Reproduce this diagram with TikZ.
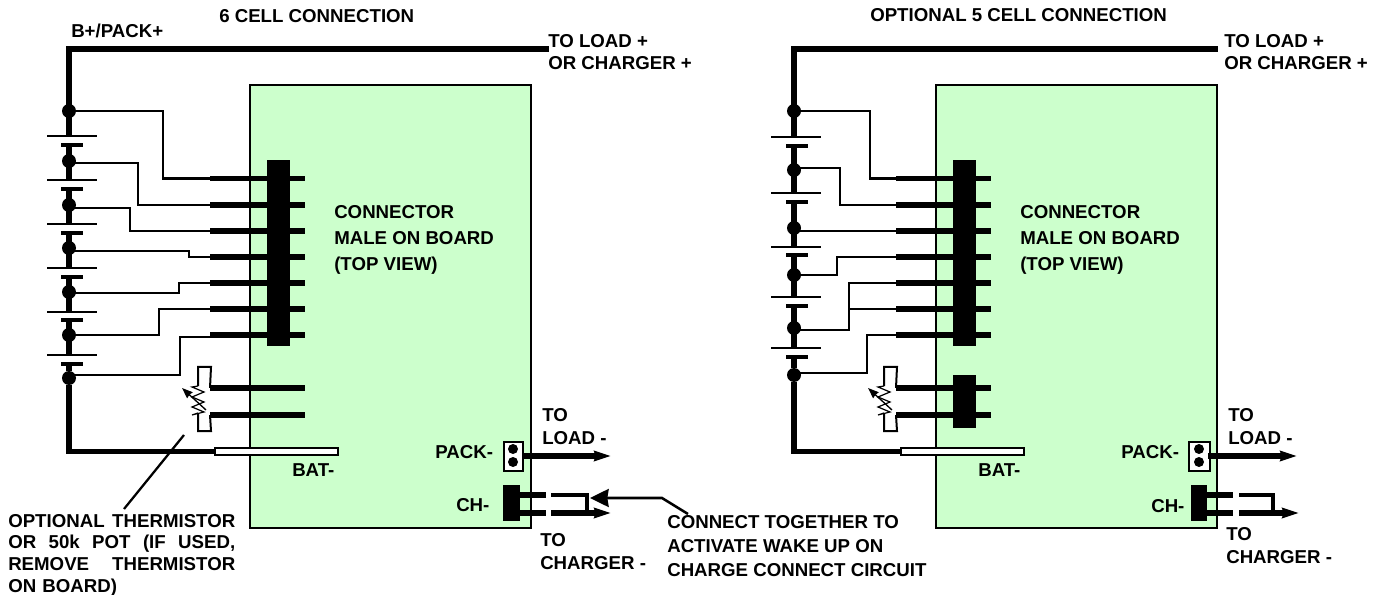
\documentclass[tikz,border=0pt]{standalone}
\usepackage{fontspec}
\setmainfont{Liberation Sans}
\usetikzlibrary{arrows.meta, fit}
\definecolor{boardgreen}{HTML}{CCFFCC}
\tikzstyle{board} = [rectangle, draw, fill=boardgreen, line width=2pt, inner sep=0pt]
\tikzstyle{solidblock} = [rectangle, fill=black, inner sep=0pt]
\tikzstyle{whitebar} = [rectangle, draw, fill=white, line width=1.3pt, inner sep=0pt]
\tikzstyle{junction} = [circle, fill=black, inner sep=0pt, minimum size=10.5pt]
\tikzstyle{dot} = [circle, fill=black, inner sep=0pt, minimum size=7.5pt]
\tikzstyle{longplate} = [rectangle, fill=black, inner sep=0pt, minimum width=37.5pt, minimum height=2.2pt]
\tikzstyle{shortplate} = [rectangle, fill=black, inner sep=0pt, minimum width=16.5pt, minimum height=3.6pt]
\tikzstyle{bus} = [line width=4.3pt]
\tikzstyle{pin} = [line width=4pt]
\tikzstyle{wire} = [line width=2.1pt]
\tikzstyle{lbl} = [anchor=base west, inner sep=0pt, align=left, font=\fontsize{14}{17}\selectfont\bfseries]

\begin{document}
\begin{tikzpicture}[x=0.75pt, y=-0.75pt, >={Stealth[length=12.5pt,width=7.5pt,inset=1pt]}]
		\useasboundingbox (0,0) rectangle (1382,595);

		% Parts both boards share
		\foreach \side/\dx in {a/0,b/686} {
			\begin{scope}[shift={(\dx,0)}]
				\coordinate (tl\side) at (250,85);
				\coordinate (br\side) at (531,528);
				\node[board, fit=(tl\side) (br\side)] (board\side) {};
				\node (conntext\side) [lbl] at (334,271) {CONNECTOR\\[2.5pt]MALE ON BOARD\\[2.5pt](TOP VIEW)};
				\node (battext\side) [lbl] at (292,476) {BAT-};
				\foreach \n/\y in {1/178.5,2/205,3/231,4/257,5/283,6/309,7/335,8/388,9/415} {
					\coordinate (pin\side\n) at (210,\y);
					\coordinate (pinend\side\n) at (305,\y);
					\draw[pin] (pin\side\n) -- (pinend\side\n);
				}
				\coordinate (blocktl\side) at (267,160);
				\coordinate (blockbr\side) at (290,346);
				\node[solidblock, fit=(blocktl\side) (blockbr\side)] (block\side) {};
				% Thermistor
				\draw[line width=1.5pt] (pin\side8) -- (211,367) -- (198,367) -- (198,386);
				\draw[line width=1.5pt] (pin\side9) -- (211,431) -- (198,431) -- (198,413);
				\draw[line width=0.9pt] (198,386) -- (192,387) -- (204,392) -- (192,397) -- (204,402) -- (192,407) -- (204,412) -- (192,415) -- (198,413);
				\draw[->, line width=1pt, >={Stealth[length=8pt,width=6pt,inset=0.5pt]}] (206,410) -- (182,388);
				% BAT- bar
				\coordinate (bartl\side) at (215,448);
				\coordinate (barbr\side) at (338,455);
				\node[whitebar, fit=(bartl\side) (barbr\side)] (bar\side) {};
			\end{scope}
		}

		% Left: cell stack
		\foreach \n/\y in {1/111,2/161,3/205,4/248,5/292,6/335,7/378} {
			\node (ja\n) [junction] at (69,\y) {};
		}
		\foreach \n/\ylong/\yshort in {1/136/145,2/180/189,3/224/233,4/268/277,5/312/320,6/355/364} {
			\node (lpa\n) [longplate] at (72,\ylong) {};
			\node (spa\n) [shortplate] at (72,\yshort) {};
		}
		\foreach \n/\m in {1/2,2/3,3/4,4/5,5/6} {
			\draw[bus] (ja\m |- spa\n) -- (ja\m |- lpa\m);
		}
		\coordinate (busenda) at (549,49);
		\draw[bus] (ja1 |- lpa1) |- (busenda);
		\draw[bus] (ja7 |- spa6) -- (ja7);
		\draw[bus] (ja7) |- (bara.west);

		% Left: wires to the connector
		\draw[wire] (ja1) -| (163,178.5) -- (pina1);
		\draw[wire] (ja2) ++(0,2) -| (138,205) -- (pina2);
		\draw[wire] (ja3) ++(0,3) -| (130,231) -- (pina3);
		\draw[wire] (ja4) ++(0,3) -| (189,257) -- (pina4);
		\draw[wire] (ja5) ++(0,1) -| (179,283) -- (pina5);
		\draw[wire] (ja6) -| (159,309) -- (pina6);
		\draw[wire] (ja7) ++(0,-3) -| (180,337) -- (pina7 |- 0,337);

		% Left: pack and charger terminals
		\coordinate (packtla) at (504,442);
		\coordinate (packbra) at (523,471);
		\node[whitebar, fit=(packtla) (packbra)] (packa) {};
		\node (dotaa) [dot] at (513,449) {};
		\node (dotba) [dot] at (513,462) {};
		\coordinate (chtla) at (503,485);
		\coordinate (chbra) at (520,521);
		\node[solidblock, fit=(chtla) (chbra)] (cha) {};
		\coordinate (loadenda) at (611,456);
		\draw[->, pin] (522,456) -- (loadenda);
		\coordinate (chargeenda) at (611,513);
		\draw[pin] (cha.east |- 0,495) -- (546,495);
		\draw[pin] (cha.east |- 0,513) -- (546,513);
		\draw[line width=2.4pt] (551,495) -| (587,513);
		\draw[->, pin] (551,513) -- (chargeenda);

		% Pointer to the open link
		\coordinate (linkpoint) at (590,498);
		\coordinate (notepoint) at (688,514);
		\draw[<-, line width=1.9pt, >={Stealth[length=14pt,width=13.5pt,inset=1pt]}] (linkpoint) -- (662,498) -- (notepoint);

		% Thermistor leader
		\coordinate (leadertop) at (184,435);
		\coordinate (leaderend) at (124,509);
		\draw[line width=1.7pt] (leadertop) -- (leaderend);

		% Right: cell stack
		\foreach \n/\y in {1/111,2/170,3/228,4/275,5/328,6/375} {
			\node (jb\n) [junction] at (794,\y) {};
		}
		\foreach \n/\ylong/\yshort in {1/137/146,2/193/202,3/247/255,4/297/306,5/348/357} {
			\node (lpb\n) [longplate] at (796,\ylong) {};
			\node (spb\n) [shortplate] at (796.5,\yshort) {};
		}
		\foreach \n/\m in {1/2,2/3,3/4,4/5} {
			\draw[bus] (jb\m |- spb\n) -- (jb\m |- lpb\m);
		}
		\coordinate (busendb) at (1218,49);
		\draw[bus] (jb1 |- lpb1) |- (busendb);
		\draw[bus] (jb6 |- spb5) -- (jb6);
		\draw[bus] (jb6) |- (barb.west);

		% Right: wires to the connector
		\draw[wire] (jb1) -| (870,178.5) -- (pinb1);
		\draw[wire] (jb2) ++(0,-2) -| (840,205) -- (pinb2);
		\draw[wire] (jb3) ++(0,3) -- (pinb3);
		\draw[wire] (jb4) -| (837,257) -- (pinb4);
		\draw[wire] (jb5) ++(0,2) -| (849,283) -- (pinb5);
		\draw[line width=1pt] (849,309) -- (pinb6);
		\draw[wire] (jb6) ++(0,-2) -| (867,335) -- (pinb7);
		\coordinate (blocktlc) at (953,375);
		\coordinate (blockbrc) at (976,428);
		\node[solidblock, fit=(blocktlc) (blockbrc)] (blockc) {};

		% Right: pack and charger terminals
		\coordinate (packtlb) at (1189,442);
		\coordinate (packbrb) at (1210,471);
		\node[whitebar, fit=(packtlb) (packbrb)] (packb) {};
		\node (dotab) [dot] at (1199,449) {};
		\node (dotbb) [dot] at (1199,462) {};
		\coordinate (chtlb) at (1191,485);
		\coordinate (chbrb) at (1207,521);
		\node[solidblock, fit=(chtlb) (chbrb)] (chb) {};
		\coordinate (loadendb) at (1297,456);
		\draw[->, pin] (1208,456) -- (loadendb);
		\coordinate (chargeendb) at (1299,513);
		\draw[pin] (chb.east |- 0,495) -- (1233,495);
		\draw[pin] (chb.east |- 0,513) -- (1233,513);
		\draw[line width=2.4pt] (1239,495) -| (1273,513);
		\draw[->, pin] (1239,513) -- (chargeendb);

		% Labels
		\node (titlea) [lbl] at (219,23) {6 CELL CONNECTION};
		\node (titleb) [lbl] at (870,22) {OPTIONAL 5 CELL CONNECTION};
		\node (packplus) [lbl] at (71,38) {B+/PACK+};
		\node (toloada) [lbl] at (548,70) {TO LOAD +\\OR CHARGER +};
		\node (toloadb) [lbl] at (1224,70) {TO LOAD +\\OR CHARGER +};
		\node (packtexta) [lbl] at (435,458) {PACK-};
		\node (packtextb) [lbl] at (1121,458) {PACK-};
		\node (chtexta) [lbl] at (456,511) {CH-};
		\node (chtextb) [lbl] at (1151,512) {CH-};
		\node (loadnega) [lbl] at (542,444) {TO\\LOAD -};
		\node (loadnegb) [lbl] at (1228,444) {TO\\LOAD -};
		\node (chargernega) [lbl] at (540,569) {TO\\CHARGER -};
		\node (chargernegb) [lbl] at (1226,563) {TO\\CHARGER -};
		\node (linktext) [lbl] at (667,576) {CONNECT TOGETHER TO\\[0.9pt]ACTIVATE WAKE UP ON\\[0.9pt]CHARGE CONNECT CIRCUIT};
		\node (thermtext) [lbl, text width=170.25pt, font=\fontsize{14}{16.25}\selectfont\bfseries] at (8,527) {\makebox[\linewidth][s]{OPTIONAL\hfill THERMISTOR}\\\makebox[\linewidth][s]{OR\hfill 50k\hfill POT\hfill (IF\hfill USED,}\\\makebox[\linewidth][s]{REMOVE\hfill THERMISTOR}\\ON BOARD)};
	\end{tikzpicture}
\end{document}
